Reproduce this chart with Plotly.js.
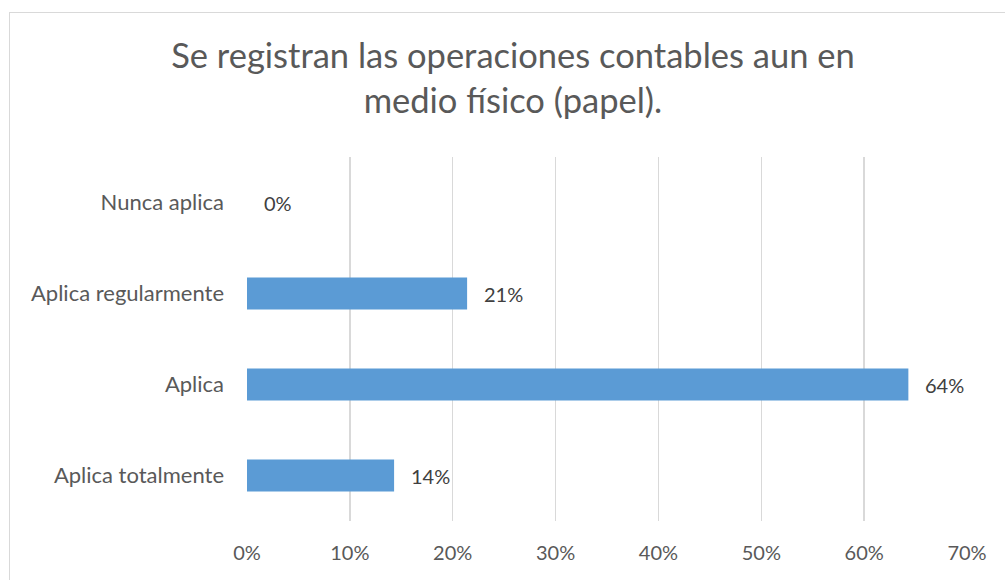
<!DOCTYPE html>
<html>
<head>
<meta charset="utf-8">
<script src="https://cdn.plot.ly/plotly-3.0.1.min.js"></script>
<style>
  html, body { margin: 0; padding: 0; background: #ffffff; overflow: hidden; }
  #chart { position: absolute; left: 0; top: 0; width: 1005px; height: 580px; }
  #frame { position: absolute; left: 9px; top: 12px; width: 1010px; height: 590px;
           border: 1.5px solid #d9d9d9; pointer-events: none; box-sizing: border-box; }
</style>
</head>
<body>
<div id="chart"></div>
<div id="frame"></div>
<script>
// Data (bottom to top in plot order)
const categories = ['Aplica totalmente', 'Aplica', 'Aplica regularmente', 'Nunca aplica'];
const percentValues = [14.3, 64.3, 21.4, 0];
const xTickValues = [0, 10, 20, 30, 40, 50, 60, 70];
const xTickLabels = ['0%', '10%', '20%', '30%', '40%', '50%', '60%', '70%'];
const chartTitle = 'Se registran las operaciones contables aun en<br>medio físico (papel).';

const FONT = 'Lato, "Open Sans", sans-serif';

const trace = {
  type: 'bar',
  orientation: 'h',
  x: percentValues,
  y: categories,
  marker: { color: '#5b9bd5', line: { width: 0 } },
  hoverinfo: 'none'
};

const annotations = categories.map((c, i) => ({
  x: percentValues[i],
  y: c,
  xref: 'x',
  yref: 'y',
  text: Math.round(percentValues[i]) + '%',
  showarrow: false,
  xanchor: 'left',
  yanchor: 'middle',
  xshift: 15,
  font: { family: FONT, size: 20, color: '#404040' }
}));

const layout = {
  width: 1005,
  height: 580,
  paper_bgcolor: '#ffffff',
  plot_bgcolor: '#ffffff',
  margin: { l: 247, r: 38, t: 157, b: 59, pad: 0 },
  showlegend: false,
  bargap: 0.65,
  title: {
    text: chartTitle,
    font: { family: FONT, size: 34.5, color: '#595959' },
    x: 0.5104,
    xanchor: 'center',
    xref: 'container',
    y: 1 - 68 / 580,
    yref: 'container',
    yanchor: 'top'
  },
  xaxis: {
    range: [0, 70],
    tickmode: 'array',
    tickvals: xTickValues,
    ticktext: xTickLabels,
    showgrid: true,
    gridcolor: '#d9d9d9',
    gridwidth: 1.5,
    zeroline: false,
    showline: false,
    ticks: '',
    ticklabelstandoff: 18,
    tickfont: { family: FONT, size: 20, color: '#595959' },
    fixedrange: true
  },
  yaxis: {
    type: 'category',
    categoryorder: 'array',
    categoryarray: categories,
    range: [-0.5, 3.5],
    showgrid: false,
    zeroline: false,
    showline: false,
    ticks: '',
    ticklabelstandoff: 22,
    tickfont: { family: FONT, size: 22, color: '#595959' },
    fixedrange: true
  },
  annotations: annotations
};

Plotly.newPlot('chart', [trace], layout, { displayModeBar: false, staticPlot: true });
</script>
</body>
</html>
